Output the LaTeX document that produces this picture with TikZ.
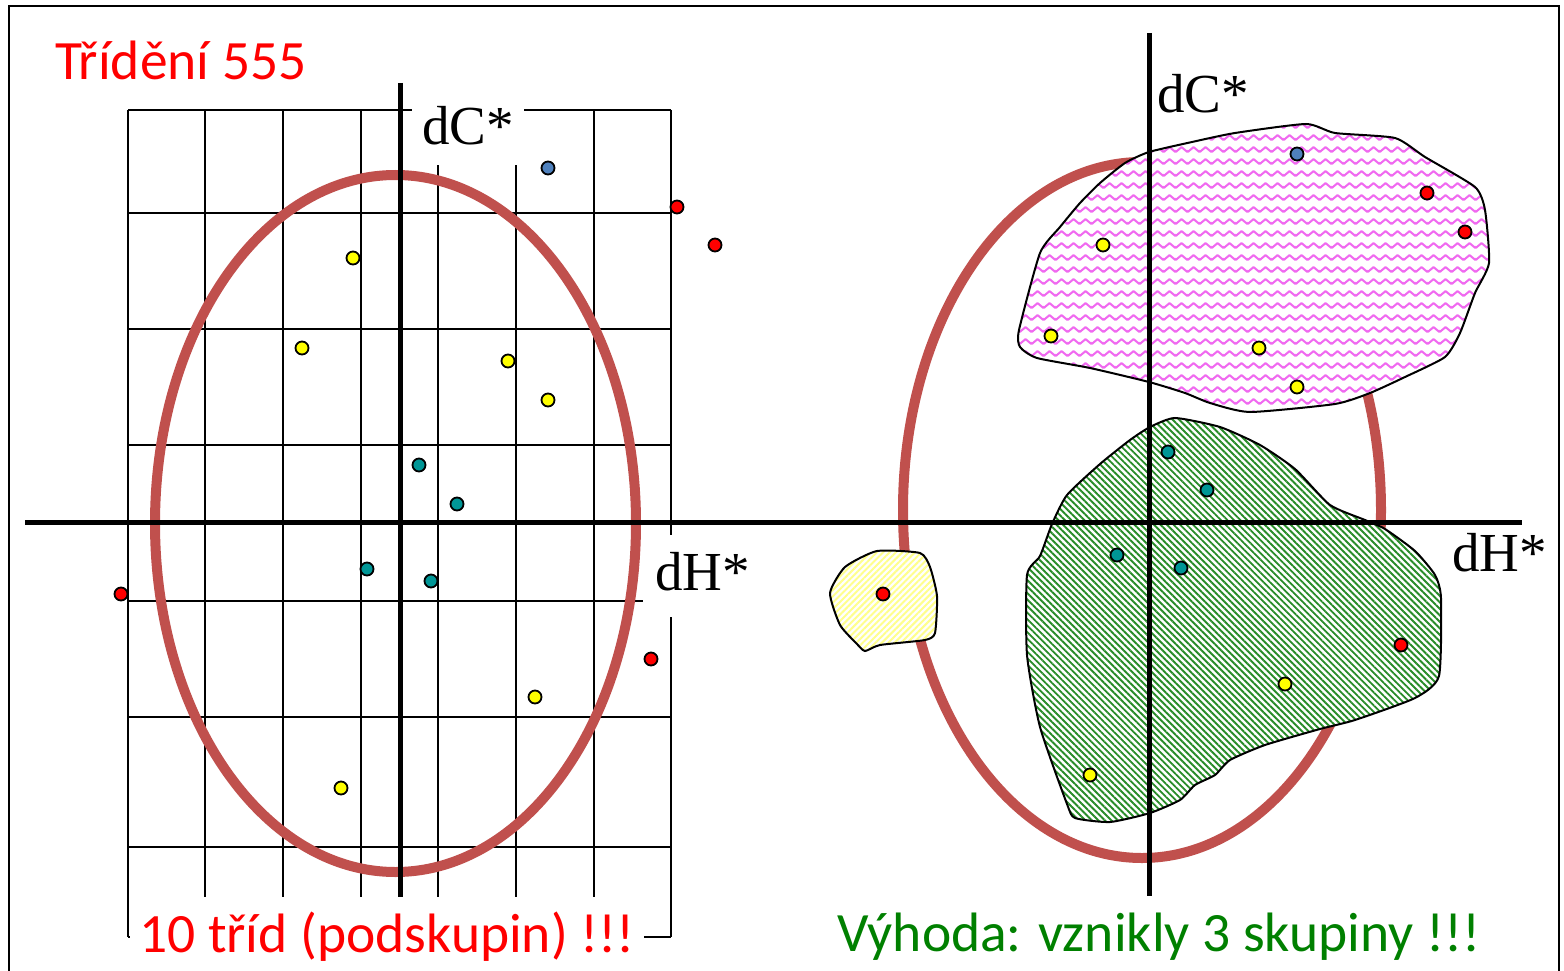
\documentclass[tikz,border=0pt]{standalone}
\usepackage{fontspec}
\newfontfamily\labelsans{Carlito}
\newfontfamily\labelserif{Liberation Serif}
\usetikzlibrary{patterns,patterns.meta}

\definecolor{ringred}{RGB}{192,80,77}
\definecolor{dotred}{RGB}{255,0,0}
\definecolor{dotyellow}{RGB}{255,255,0}
\definecolor{dotteal}{RGB}{0,150,150}
\definecolor{dotblue}{RGB}{79,129,189}
\definecolor{textred}{RGB}{255,0,0}
\definecolor{textgreen}{RGB}{0,128,0}
\definecolor{wavepink}{RGB}{240,105,240}
\definecolor{stripegreen}{RGB}{40,140,40}
\definecolor{stripeyellow}{RGB}{255,255,140}

% zigzag rows for the upper cluster
\pgfdeclarepattern{
  name=pinkwaves,
  type=uncolored,
  bottom left={\pgfpoint{0pt}{0pt}},
  top right={\pgfpoint{12pt}{12pt}},
  tile size={\pgfpoint{12pt}{12pt}},
  code={
    \pgfsetlinewidth{2.2pt}
    \pgfsetroundjoin
    \pgfpathmoveto{\pgfpoint{-6pt}{8.5pt}}
    \pgfpathlineto{\pgfpoint{0pt}{3.5pt}}
    \pgfpathlineto{\pgfpoint{6pt}{8.5pt}}
    \pgfpathlineto{\pgfpoint{12pt}{3.5pt}}
    \pgfpathlineto{\pgfpoint{18pt}{8.5pt}}
    \pgfusepath{stroke}
  }
}

\begin{document}
\begin{tikzpicture}[x=1pt,y=-1pt,
  frameline/.style={line width=2pt},
  gridline/.style={line width=2.2pt},
  axisline/.style={line width=5pt},
  ring/.style={draw=ringred, line width=10pt},
  dot/.style={circle, draw=black, line width=1.8pt, minimum size=13pt, inner sep=0pt},
  blob/.style={draw=black, line width=2pt, preaction={fill=white}},
  axislabel/.style={font=\labelserif\fontsize{55}{60}\selectfont, inner sep=0pt},
  covered/.style={fill=white},
  sanslabel/.style={font=\labelsans\fontsize{55.5}{62}\selectfont, inner sep=0pt, anchor=base west}
]
\useasboundingbox (0,0) rectangle (1564,971);

% outer frame
\draw[frameline] (9,990) -- (9,6) -- (1559,6) -- (1559,990);

% ---------- left panel: classification grid ----------
\foreach \gx in {128,205,283,361,438,516,594,671}
  \draw[gridline] (\gx,110) -- (\gx,937);
\foreach \gy in {110,213,329,445,601,717,847,937}
  \draw[gridline] (128,\gy) -- (671,\gy);
\draw[gridline] (655,937) -- (671,937);

\draw[ring] (395.5,523.5) ellipse [x radius=240.5, y radius=348.5];

% ---------- right panel: clusters ----------
\draw[ring] (1142,510) ellipse [x radius=239, y radius=348];

\draw[blob, pattern=pinkwaves, pattern color=wavepink]
  plot[smooth cycle, tension=0.35] coordinates {
    (1149,152) (1192,142) (1235,133) (1306,124) (1335,133) (1395,138)
    (1425,157) (1475,187) (1485,210) (1489,263) (1475,293) (1460,333)
    (1445,357) (1405,377) (1370,393) (1335,404) (1250,412) (1210,403)
    (1185,393) (1149,382) (1090,368) (1037,358) (1020,347) (1019,330)
    (1040,253) (1060,227) (1080,203) (1100,183) (1125,163)};

\draw[blob, pattern={Lines[angle=-45,distance=4.6pt,line width=1.9pt]}, pattern color=stripegreen]
  plot[smooth cycle, tension=0.35] coordinates {
    (1150,427) (1175,418) (1220,427) (1260,445) (1295,469) (1330,505)
    (1365,520) (1385,529) (1415,551) (1435,575) (1441,598) (1439,676)
    (1415,698) (1355,720) (1320,729) (1265,745) (1230,760) (1215,775)
    (1195,785) (1180,800) (1150,813) (1110,822) (1075,818) (1067,804)
    (1040,727) (1027,655) (1027,575) (1040,556) (1052,524) (1067,495)
    (1100,464) (1130,440)};

\draw[blob, pattern={Lines[angle=45,distance=4.5pt,line width=2pt]}, pattern color=stripeyellow]
  plot[smooth cycle, tension=0.35] coordinates {
    (830,593) (845,567) (877,551) (920,553) (930,567) (937,596)
    (935,633) (925,640) (880,645) (865,651) (857,644) (840,625)};

% ---------- axes ----------
\draw[axisline] (25,522) -- (1522,522);
\draw[axisline] (400,83) -- (400,937);
\draw[axisline] (1149,33) -- (1149,896);

% ---------- points, left panel ----------
\node[dot, fill=dotblue]   (a1)  at (548,168) {};
\node[dot, fill=dotred]    (a2)  at (677,207) {};
\node[dot, fill=dotred]    (a3)  at (715,245) {};
\node[dot, fill=dotyellow] (a4)  at (353,258) {};
\node[dot, fill=dotyellow] (a5)  at (302,348) {};
\node[dot, fill=dotyellow] (a6)  at (508,361) {};
\node[dot, fill=dotyellow] (a7)  at (548,400) {};
\node[dot, fill=dotteal]   (a8)  at (419,465) {};
\node[dot, fill=dotteal]   (a9)  at (457,504) {};
\node[dot, fill=dotteal]   (a10) at (367,569) {};
\node[dot, fill=dotteal]   (a11) at (431,581) {};
\node[dot, fill=dotred]    (a12) at (121,594) {};
\node[dot, fill=dotred]    (a13) at (651,659) {};
\node[dot, fill=dotyellow] (a14) at (535,697) {};
\node[dot, fill=dotyellow] (a15) at (341,788) {};

% ---------- points, right panel ----------
\node[dot, fill=dotblue]   (b1)  at (1297,154) {};
\node[dot, fill=dotred]    (b2)  at (1427,193) {};
\node[dot, fill=dotred]    (b3)  at (1465,232) {};
\node[dot, fill=dotyellow] (b4)  at (1103,245) {};
\node[dot, fill=dotyellow] (b5)  at (1051,336) {};
\node[dot, fill=dotyellow] (b6)  at (1259,348) {};
\node[dot, fill=dotyellow] (b7)  at (1297,387) {};
\node[dot, fill=dotteal]   (b8)  at (1168,452) {};
\node[dot, fill=dotteal]   (b9)  at (1207,490) {};
\node[dot, fill=dotteal]   (b10) at (1117,555) {};
\node[dot, fill=dotteal]   (b11) at (1181,568) {};
\node[dot, fill=dotred]    (b12) at (883,594) {};
\node[dot, fill=dotred]    (b13) at (1401,645) {};
\node[dot, fill=dotyellow] (b14) at (1285,684) {};
\node[dot, fill=dotyellow] (b15) at (1090,775) {};

% ---------- labels ----------
\node[sanslabel, text=textred] (title) at (55,80) {Třídění 555};

\node[axislabel, covered, anchor=base west, text height=45pt, text depth=20pt, inner xsep=10pt]
  (dcl) at (412,145) {dC*};
\node[axislabel, covered, anchor=base west, text height=55pt, text depth=27pt, inner xsep=12pt]
  (dhl) at (643,590) {dH*};
\node[axislabel, anchor=base west] (dcr) at (1157,113) {dC*};
\node[axislabel, anchor=base west] (dhr) at (1452,571) {dH*};

\node[sanslabel, covered, text=textred, text height=55pt, text depth=25pt, inner xsep=9pt]
  (classes) at (130,952) {10 tříd (podskupin) !!!};
\node[sanslabel, text=textgreen] (gain) at (837,951) {Výhoda: vznikly 3 skupiny !!!};
\end{tikzpicture}
\end{document}
